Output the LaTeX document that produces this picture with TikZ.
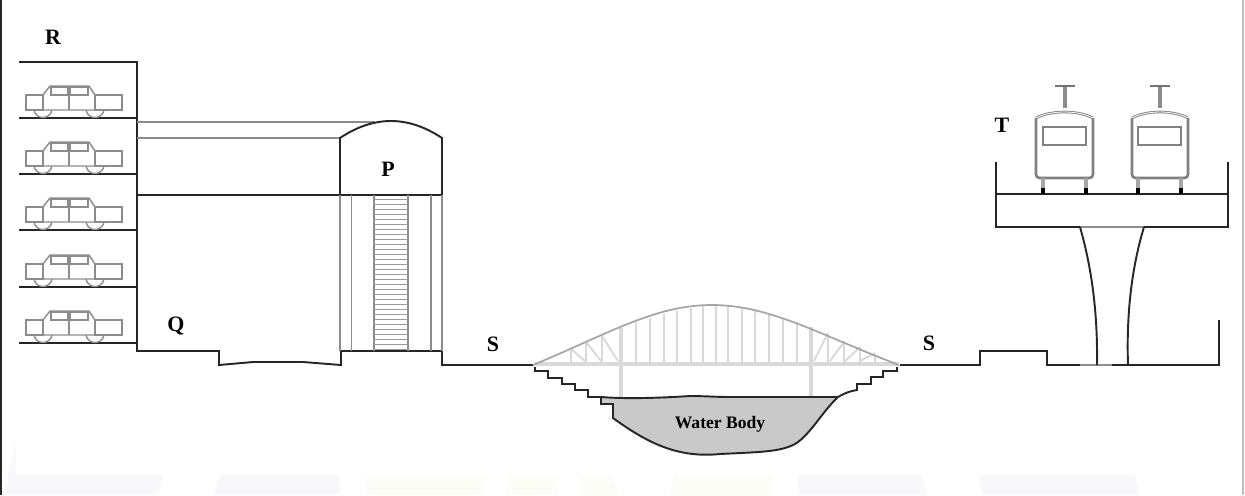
\documentclass[tikz,border=0pt]{standalone}
\usepackage{fontspec}
\setmainfont{Liberation Serif}
\usetikzlibrary{positioning}

\begin{document}
\begin{tikzpicture}[x=0.02cm,y=-0.02cm]

\tikzstyle{heavy}=[line width={1.1pt},black!85]
\tikzstyle{thin}=[line width={0.8pt},black!45]
\tikzstyle{pale}=[line width={1.1pt},black!15]
\tikzstyle{letter}=[font={\bfseries\fontsize{12.5}{14}\selectfont}]

\definecolor{markgrey}{HTML}{F8F8FA}
\definecolor{markcream}{HTML}{FDFDF8}

\useasboundingbox (0,0) rectangle (1245,495);

% faint marks at the foot

\fill [markgrey] (16,443) -- (16,475) -- (164,475) -- (158,495) -- (3,495) -- cycle ;
\fill [markgrey] (220,475) -- (340,475) -- (340,495) -- (214,495) -- cycle ;
\fill [markcream] (366,475) rectangle (485,495) ;
\fill [markcream] (506,475) rectangle (558,495) ;
\fill [markcream] (579,475) -- (610,475) -- (620,495) -- (579,495) -- cycle ;
\fill [markcream] (674,475) -- (772,475) -- (772,495) -- (669,495) -- cycle ;
\fill [markgrey] (798,475) -- (921,475) -- (927,495) -- (798,495) -- cycle ;
\fill [markgrey] (978,475) -- (1135,475) -- (1139,495) -- (983,495) -- cycle ;

% frame

\draw [line width={1.1pt},black!85] (1,0) -- (1,495) ;
\draw [line width={0.6pt},black!25] (1243,0) -- (1243,495) ;

% parking: floors and cars

\draw [heavy] (19,62) -- (137,62) -- (137,351) -- (219,351) -- (219,365) -- (253,362) -- (303,362) -- (341,365) -- (341,351) -- (442,351) -- (442,365) -- (533,365) ;

\foreach \f in {118,174,230,287,343} {
  \draw [heavy] (19,\f) -- (137,\f) ;
  \begin{scope}[yshift={-0.02cm*(\f-118)}]
    \draw [thin] (26,95) rectangle (43,110) ;
    \draw [thin] (95,95) rectangle (122,110) ;
    \draw [thin] (43,110) -- (43,95) -- (50,86) -- (89,86) -- (95,95) -- (95,110) -- cycle ;
    \draw [thin] (51,87) rectangle (67.5,95) ;
    \draw [thin] (70.5,87) rectangle (88,95) ;
    \draw [thin] (69,86) -- (69,110) ;
    \draw [thin] (34,110) .. controls (36,120) and (50,120) .. (52,110) ;
    \draw [thin] (86,110) .. controls (88,120) and (102,120) .. (104,110) ;
  \end{scope}
}

% station: roof and stairs

\draw [thin] (137,122) -- (375,122) ;
\draw [thin] (137,138) -- (340,138) ;
\draw [heavy] (137,195) -- (442,195) ;
\draw [heavy] (340,195) -- (340,138) .. controls (358,126) and (375,121) .. (391,121) .. controls (407,121) and (424,126) .. (442,138) -- (442,195) ;
\foreach \x in {340,351.5,374,408,431,442} {
  \draw [thin] (\x,195) -- (\x,351) ;
}
\foreach \y in {199,204,...,349} {
  \draw [line width={0.55pt},black!40] (374,\y) -- (408,\y) ;
}

% water

\fill [black!21] (601,397) .. controls (625,399) and (660,398) .. (690,396) .. controls (705,396) and (715,397) .. (730,397) -- (838,397) .. controls (822,412) and (810,435) .. (795,444) .. controls (780,452) and (760,452) .. (720,454) .. controls (680,458) and (650,445) .. (613,418) -- (613,404) -- (601,404) -- cycle ;

% bridge

\draw [line width={2.6pt},black!15] (535,364) -- (898,364) ;
\draw [line width={2.6pt},black!15] (621,328) -- (621,398) ;
\draw [line width={2.6pt},black!15] (811,327) -- (811,396) ;
\draw [pale] (571,349) -- (571,362) (586,342) -- (586,362) (602,335) -- (602,362) ;
\draw [pale] (636,322) -- (636,362) (650,318) -- (650,362) (664,314) -- (664,362) (677,311) -- (677,362) (691,308) -- (691,362) (703,306) -- (703,362) (716,305) -- (716,362) (728,306) -- (728,362) (742,308) -- (742,362) (755,310) -- (755,362) (769,314) -- (769,362) (783,318) -- (783,362) (797,322) -- (797,362) ;
\draw [pale] (828,333) -- (828,362) (844,341) -- (844,362) (860,347) -- (860,362) (875,354) -- (875,362) ;
\draw [pale] (571,349) -- (585,361) (586,342) -- (601,361) (602,336) -- (618,361) ;
\draw [pale] (828,333) -- (814,361) (844,342) -- (830,361) (860,347) -- (845,361) (875,353) -- (860,361) ;
\draw [line width={1pt},black!35] (533,365) .. controls (610,333) and (655,305) .. (712,305) .. controls (770,305) and (820,335) .. (899,365) ;

% banks

\draw [heavy] (535,367) -- (535,371) -- (548,371) -- (548,378) -- (562,378) -- (562,384) -- (575,384) -- (575,390) -- (588,390) -- (588,397) -- (601,397) -- (601,404) -- (613,404) -- (613,418) .. controls (650,445) and (680,458) .. (720,454) .. controls (760,452) and (780,452) .. (795,444) .. controls (810,435) and (822,412) .. (838,397) .. controls (845,393) and (850,391) .. (857,390) -- (857,384) -- (871,384) -- (871,377) -- (883,377) -- (883,371) -- (897,371) -- (897,367) ;
\draw [heavy] (601,397) .. controls (625,399) and (660,398) .. (690,396) .. controls (705,396) and (715,397) .. (730,397) -- (838,397) ;

% road and viaduct

\draw [heavy] (900,365) -- (980,365) -- (980,351) -- (1047,351) -- (1047,365) -- (1080,365) ;
\draw [thin] (1080,365) -- (1112,365) ;
\draw [heavy] (1112,365) -- (1219,365) -- (1219,320) ;
\draw [heavy] (996,162) -- (996,227) -- (1080,227) ;
\draw [thin] (1080,227) -- (1144,227) ;
\draw [heavy] (1144,227) -- (1228,227) -- (1228,162) ;
\draw [heavy] (996,194) -- (1228,194) ;
\draw [heavy] (1080,227) .. controls (1088,255) and (1098,300) .. (1097,365) ;
\draw [heavy] (1144,227) .. controls (1134,260) and (1126,305) .. (1128,365) ;

% trams

\foreach \a/\b/\c/\d/\e in {1036/1093/1043/1086/1065,1132/1188/1138/1181/1160} {
  \draw [line width={1.5pt},black!50,rounded corners=2pt] (\a,118) -- (\a,178) -- (\b,178) -- (\b,118) ;
  \draw [line width={1.5pt},black!50] (\a,118) .. controls (\a+15,110) and (\b-15,110) .. (\b,118) ;
  \draw [line width={0.45pt},white] (\a,118) .. controls (\a+15,110) and (\b-15,110) .. (\b,118) ;
  \draw [line width={1pt},black!50] (\c,127) rectangle (\d,145) ;
  \draw [line width={2pt},black!45] (\e,108) -- (\e,86) ;
  \draw [line width={1.2pt},black!55] (\e-10,86) -- (\e+10,86) ;
  \draw [line width={2pt},black!35] (\c,178) -- (\c,188) (\d,178) -- (\d,188) ;
  \draw [line width={2.2pt},black] (\c,188) -- (\c,194) (\d,188) -- (\d,194) ;
}

% labels

\node [letter] (R) at (53,37) {R} ;
\node [letter] (Q) at (176,326) {Q} ;
\node [letter] (P) at (388,169) {P} ;
\node [letter] (S1) at (493,344) {S} ;
\node [letter] (S2) at (929,343) {S} ;
\node [letter] (T) at (1002,125) {T} ;
\node [font={\bfseries\fontsize{10}{12}\selectfont}] (W) at (720,424) {Water Body} ;

\end{tikzpicture}
\end{document}
